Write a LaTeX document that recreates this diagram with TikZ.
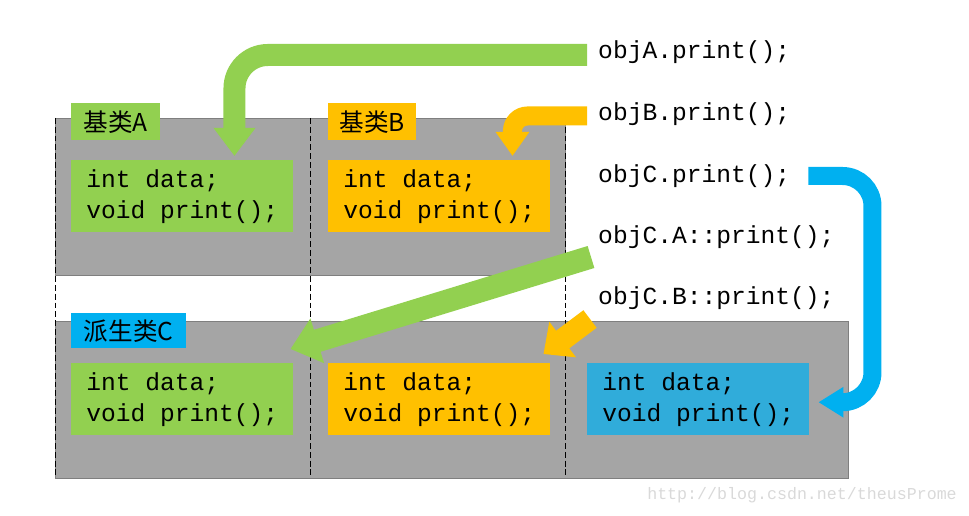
\documentclass[tikz,border=0pt]{standalone}
\usepackage{fontspec}
\setmonofont{Liberation Mono}
\newfontfamily\cjk{Noto Sans CJK SC}
\newfontfamily\cdfont{Liberation Mono}
\usetikzlibrary{arrows.meta,calc}

\definecolor{cGreen}{HTML}{92D050}
\definecolor{cOrange}{HTML}{FFC000}
\definecolor{cBlue}{HTML}{00B0F0}
\definecolor{cBlueBox}{HTML}{30ACDA}
\definecolor{panelGray}{HTML}{A5A5A5}
\definecolor{panelLine}{HTML}{7F7F7F}

\begin{document}
\begin{tikzpicture}[
  x=0.03cm,y=-0.03cm,
  every node/.style={inner sep=0pt},
  panel/.style={draw=panelLine,fill=panelGray,line width=0.6pt},
  sep/.style={black,line width=0.7pt,dash pattern=on 5pt off 2.5pt},
  codebox/.style={fill=#1,anchor=north west,minimum width=6.66cm,minimum height=2.16cm,
                  align=left,font=\cdfont\fontsize{21}{26.4}\selectfont},
  lab/.style={fill=#1,anchor=north west,minimum height=1.11cm,
              font=\cjk\fontsize{21}{24}\selectfont},
  call/.style={anchor=west,font=\cdfont\fontsize{21}{24}\selectfont},
  bend/.style={line width=#1,line cap=butt},
]
\useasboundingbox (0,0) rectangle (969,516);

%% panels and separators
\draw[panel] (55,118) rectangle (565,275);
\draw[panel] (55,321) rectangle (848,478);
\foreach \x in {55,310,565}
  \draw[sep] (\x,118) -- (\x,478);

%% base classes
\node[lab=cGreen,minimum width=2.67cm] (labA) at (71,103) {基类A};
\node[lab=cOrange,minimum width=2.64cm] (labB) at (328,103) {基类B};
\node[codebox=cGreen]  (codeA) at (71,160)  {int data;\\void print();};
\node[codebox=cOrange] (codeB) at (328,160) {int data;\\void print();};

%% derived class
\node[lab=cBlue,minimum width=3.45cm,minimum height=1.05cm] (labC) at (71,313) {派生类C};
\node[codebox=cGreen]   (codeCA) at (71,363)  {int data;\\void print();};
\node[codebox=cOrange]  (codeCB) at (328,363) {int data;\\void print();};
\node[codebox=cBlueBox] (codeCC) at (587,363) {int data;\\void print();};

%% calls
\node[call] (callA)  at (598,52)  {objA.print();};
\node[call] (callB)  at (598,114) {objB.print();};
\node[call] (callC)  at (598,176) {objC.print();};
\node[call] (callCA) at (598,237) {objC.A::print();};
\node[call] (callCB) at (598,298) {objC.B::print();};

\node[anchor=east,text=black!15,font=\cdfont\fontsize{14.2}{16}\selectfont]
  (wmark) at (957,495) {http://blog.csdn.net/theusProme};

%% arrows
\draw[bend=0.66cm,cGreen,rounded corners=1cm,-{Triangle[length=0.84cm,width=1.2cm]}]
  ($(callA.west)+(-11,3)$) -| ($(codeA.north east)+(-59,-4)$);
\draw[bend=0.57cm,cOrange,rounded corners=0.45cm,-{Triangle[length=0.72cm,width=0.96cm]}]
  ($(callB.west)+(-11,2)$) -| ($(codeB.north east)+(-38,-4)$);
\coordinate (bturn) at ($(codeCC.north east)+(63,-80)$);
\draw[bend=0.54cm,cBlue,rounded corners=0.9cm,-{Triangle[length=0.75cm,width=0.87cm]}]
  ($(callC.east)+(18,0)$) -| (bturn) |- ($(codeCC.east)+(9,3)$);
\draw[bend=0.69cm,cGreen,-{Triangle[length=0.84cm,width=1.35cm]}]
  ($(callCA.west)+(-7,20)$) -- ($(codeCA.north east)+(-3,-14)$);
\draw[bend=0.66cm,cOrange,-{Triangle[length=0.72cm,width=1.29cm]}]
  ($(callCB.west)+(-8,21)$) -- ($(codeCB.north east)+(-7,-9)$);

\end{tikzpicture}
\end{document}
